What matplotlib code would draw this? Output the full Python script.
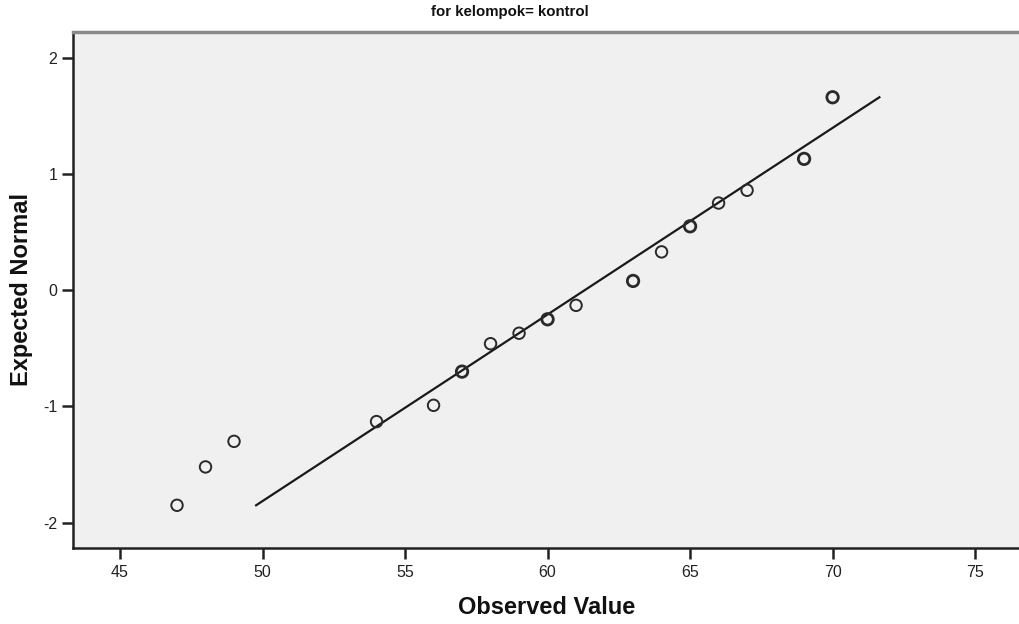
import matplotlib
matplotlib.use("Agg")
import matplotlib.pyplot as plt
import numpy as np

observed = [47, 48, 49, 54, 56, 57, 58, 59, 60, 61, 63, 64, 65, 66, 67, 69, 70]
expected = [-1.85, -1.52, -1.30, -1.13, -0.99, -0.70, -0.46, -0.37, -0.25, -0.13,
            0.08, 0.33, 0.55, 0.75, 0.86, 1.13, 1.66]
counts = [1, 1, 1, 1, 1, 2, 1, 1, 2, 1, 2, 1, 2, 1, 1, 2, 2]
line_mean = 61.3
line_sd = 6.23
x_ticks = [45, 50, 55, 60, 65, 70, 75]
y_ticks = [-2, -1, 0, 1, 2]
title = "for kelompok= kontrol"
xlabel = "Observed Value"
ylabel = "Expected Normal"

plt.rcParams['font.family'] = ['Liberation Sans', 'DejaVu Sans']

fig = plt.figure(figsize=(10.19, 6.24), dpi=100)
W, H = 1019, 624
ax = fig.add_axes([72.7 / W, 1 - 548.3 / H, (1019 - 72.7) / W, (548.3 - 31.7) / H])
ax.set_facecolor('#f0f0f0')

ax.set_xlim(43.34, 76.54)
ax.set_ylim(-2.22, 2.224)

# Reference line
z = np.array([min(expected), max(expected)])
ax.plot(line_mean + line_sd * z, z, color='#1a1a1a', lw=1.6, zorder=2)

# Points
lws = [1.4 if c == 1 else 2.0 for c in counts]
ax.scatter(observed, expected, s=68, facecolors='none', edgecolors='#2a2a2a',
           linewidths=lws, zorder=3)

ax.spines['right'].set_visible(False)
ax.spines['top'].set_color('#8a8a8a')
ax.spines['top'].set_linewidth(2.5)
ax.spines['left'].set_color('#222222')
ax.spines['left'].set_linewidth(1.8)
ax.spines['bottom'].set_color('#222222')
ax.spines['bottom'].set_linewidth(1.8)

ax.set_xticks(x_ticks)
ax.set_yticks(y_ticks)
ax.set_xticklabels([str(t) for t in x_ticks])
ax.set_yticklabels([str(t) for t in y_ticks])
ax.tick_params(axis='both', length=8, width=1.8, color='#222222',
               labelsize=11.5, labelcolor='#222222')
ax.tick_params(axis='x', pad=4)
ax.tick_params(axis='y', pad=3)

fig.text(0.5, 1 - 12 / H, title, ha='center', va='center', fontsize=10.8,
         fontweight='bold', color='#111111')
fig.text(547 / W, 1 - 607 / H, xlabel, ha='center', va='center', fontsize=17,
         fontweight='bold', color='#111111')
fig.text(22 / W, 1 - 290 / H, ylabel, ha='center', va='center', fontsize=17,
         fontweight='bold', color='#111111', rotation=90)

fig.savefig('out.png', dpi=100, facecolor='white')
